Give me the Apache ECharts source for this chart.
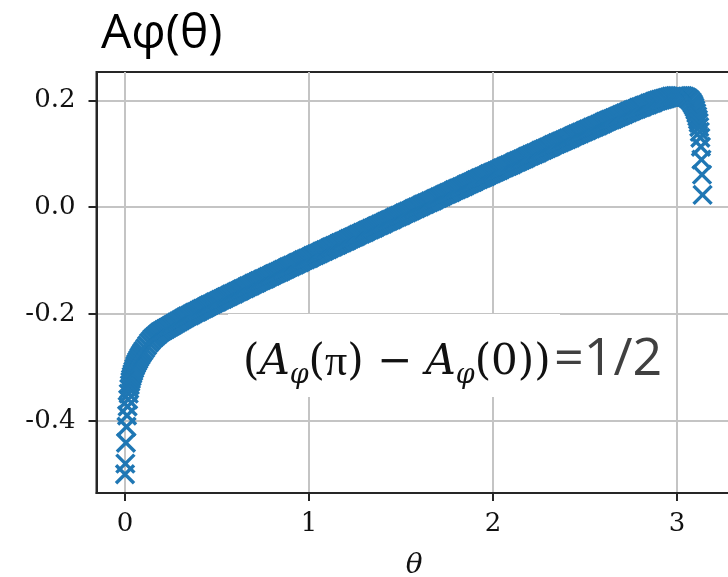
<!DOCTYPE html>
<html>
<head>
<meta charset="utf-8">
<script src="https://cdn.jsdelivr.net/npm/echarts@6/dist/echarts.min.js"></script>
<style>
  html, body { margin: 0; padding: 0; background: #ffffff; }
  #chart { width: 728px; height: 577px; }
</style>
</head>
<body>
<div id="chart"></div>
<script>
// A_phi(theta) sampled on [0, pi]; steep ends near theta = 0 and theta = pi
const thetaLeft = [0.000, 0.002, 0.005, 0.008, 0.011, 0.014, 0.017, 0.020, 0.023, 0.026,
  0.029, 0.032, 0.036, 0.040, 0.045, 0.050, 0.055, 0.060, 0.066, 0.072,
  0.078, 0.085, 0.092, 0.100, 0.110, 0.120, 0.130, 0.140, 0.150, 0.160,
  0.170, 0.180];
const aLeft = [-0.500, -0.480, -0.441, -0.411, -0.390, -0.373, -0.360, -0.349, -0.340, -0.333,
  -0.327, -0.322, -0.317, -0.312, -0.307, -0.302, -0.297, -0.293, -0.289, -0.285,
  -0.281, -0.277, -0.273, -0.269, -0.264, -0.259, -0.254, -0.250, -0.246, -0.243,
  -0.240, -0.237];

const thetaMid = [0.19, 0.20, 0.21, 0.22, 0.23, 0.24, 0.25, 0.26, 0.27, 0.28, 0.29,
  0.30, 0.31, 0.32, 0.33, 0.34, 0.35, 0.36, 0.37, 0.38, 0.39,
  0.40, 0.41, 0.42, 0.43, 0.44, 0.45, 0.46, 0.47, 0.48, 0.49,
  0.50, 0.51, 0.52, 0.53, 0.54, 0.55, 0.56, 0.57, 0.58, 0.59,
  0.60, 0.61, 0.62, 0.63, 0.64, 0.65, 0.66, 0.67, 0.68, 0.69,
  0.70, 0.71, 0.72, 0.73, 0.74, 0.75, 0.76, 0.77, 0.78, 0.79,
  0.80, 0.81, 0.82, 0.83, 0.84, 0.85, 0.86, 0.87, 0.88, 0.89,
  0.90, 0.91, 0.92, 0.93, 0.94, 0.95, 0.96, 0.97, 0.98, 0.99,
  1.00, 1.01, 1.02, 1.03, 1.04, 1.05, 1.06, 1.07, 1.08, 1.09,
  1.10, 1.11, 1.12, 1.13, 1.14, 1.15, 1.16, 1.17, 1.18, 1.19,
  1.20, 1.21, 1.22, 1.23, 1.24, 1.25, 1.26, 1.27, 1.28, 1.29,
  1.30, 1.31, 1.32, 1.33, 1.34, 1.35, 1.36, 1.37, 1.38, 1.39,
  1.40, 1.41, 1.42, 1.43, 1.44, 1.45, 1.46, 1.47, 1.48, 1.49,
  1.50, 1.51, 1.52, 1.53, 1.54, 1.55, 1.56, 1.57, 1.58, 1.59,
  1.60, 1.61, 1.62, 1.63, 1.64, 1.65, 1.66, 1.67, 1.68, 1.69,
  1.70, 1.71, 1.72, 1.73, 1.74, 1.75, 1.76, 1.77, 1.78, 1.79,
  1.80, 1.81, 1.82, 1.83, 1.84, 1.85, 1.86, 1.87, 1.88, 1.89,
  1.90, 1.91, 1.92, 1.93, 1.94, 1.95, 1.96, 1.97, 1.98, 1.99,
  2.00, 2.01, 2.02, 2.03, 2.04, 2.05, 2.06, 2.07, 2.08, 2.09,
  2.10, 2.11, 2.12, 2.13, 2.14, 2.15, 2.16, 2.17, 2.18, 2.19,
  2.20, 2.21, 2.22, 2.23, 2.24, 2.25, 2.26, 2.27, 2.28, 2.29,
  2.30, 2.31, 2.32, 2.33, 2.34, 2.35, 2.36, 2.37, 2.38, 2.39,
  2.40, 2.41, 2.42, 2.43, 2.44, 2.45, 2.46, 2.47, 2.48, 2.49,
  2.50, 2.51, 2.52, 2.53, 2.54, 2.55, 2.56, 2.57, 2.58, 2.59,
  2.60, 2.61, 2.62, 2.63, 2.64, 2.65, 2.66, 2.67, 2.68, 2.69,
  2.70, 2.71, 2.72, 2.73, 2.74, 2.75, 2.76, 2.77, 2.78, 2.79,
  2.80, 2.81, 2.82, 2.83, 2.84, 2.85, 2.86, 2.87, 2.88, 2.89,
  2.90, 2.91, 2.92, 2.93, 2.94, 2.95, 2.96, 2.97, 2.98, 2.99,
  3.00, 3.01, 3.02, 3.03, 3.04, 3.05, 3.06, 3.07, 3.08];
const aMid = [-0.234, -0.232, -0.230, -0.228, -0.226, -0.224, -0.222, -0.220, -0.218, -0.216, -0.214,
  -0.212, -0.210, -0.208, -0.206, -0.204, -0.203, -0.201, -0.199, -0.197, -0.196,
  -0.194, -0.192, -0.190, -0.189, -0.187, -0.185, -0.183, -0.182, -0.180, -0.178,
  -0.177, -0.175, -0.173, -0.172, -0.170, -0.168, -0.167, -0.165, -0.163, -0.162,
  -0.160, -0.158, -0.157, -0.155, -0.153, -0.152, -0.150, -0.148, -0.147, -0.145,
  -0.143, -0.142, -0.140, -0.138, -0.137, -0.135, -0.134, -0.132, -0.130, -0.129,
  -0.127, -0.125, -0.124, -0.122, -0.121, -0.119, -0.117, -0.116, -0.114, -0.112,
  -0.111, -0.109, -0.108, -0.106, -0.104, -0.103, -0.101, -0.099, -0.098, -0.096,
  -0.095, -0.093, -0.091, -0.090, -0.088, -0.087, -0.085, -0.083, -0.082, -0.080,
  -0.079, -0.077, -0.075, -0.074, -0.072, -0.071, -0.069, -0.067, -0.066, -0.064,
  -0.063, -0.061, -0.059, -0.058, -0.056, -0.055, -0.053, -0.051, -0.050, -0.048,
  -0.047, -0.045, -0.043, -0.042, -0.040, -0.039, -0.037, -0.035, -0.034, -0.032,
  -0.031, -0.029, -0.027, -0.026, -0.024, -0.023, -0.021, -0.019, -0.018, -0.016,
  -0.015, -0.013, -0.011, -0.010, -0.008, -0.007, -0.005, -0.003, -0.002, 0.000,
  0.001, 0.003, 0.005, 0.006, 0.008, 0.009, 0.011, 0.012, 0.014, 0.016,
  0.017, 0.019, 0.020, 0.022, 0.024, 0.025, 0.027, 0.028, 0.030, 0.032,
  0.033, 0.035, 0.036, 0.038, 0.039, 0.041, 0.043, 0.044, 0.046, 0.047,
  0.049, 0.051, 0.052, 0.054, 0.055, 0.057, 0.058, 0.060, 0.062, 0.063,
  0.065, 0.066, 0.068, 0.069, 0.071, 0.073, 0.074, 0.076, 0.077, 0.079,
  0.080, 0.082, 0.084, 0.085, 0.087, 0.088, 0.090, 0.091, 0.093, 0.095,
  0.096, 0.098, 0.099, 0.101, 0.102, 0.104, 0.106, 0.107, 0.109, 0.110,
  0.112, 0.113, 0.115, 0.117, 0.118, 0.120, 0.121, 0.123, 0.124, 0.126,
  0.127, 0.129, 0.130, 0.132, 0.134, 0.135, 0.137, 0.138, 0.140, 0.141,
  0.143, 0.144, 0.146, 0.147, 0.149, 0.150, 0.152, 0.153, 0.155, 0.156,
  0.158, 0.160, 0.161, 0.163, 0.164, 0.165, 0.167, 0.168, 0.170, 0.171,
  0.173, 0.174, 0.176, 0.177, 0.179, 0.180, 0.182, 0.183, 0.184, 0.186,
  0.187, 0.188, 0.190, 0.191, 0.192, 0.194, 0.195, 0.196, 0.198, 0.199,
  0.200, 0.201, 0.202, 0.203, 0.204, 0.205, 0.206, 0.207, 0.207, 0.208,
  0.208, 0.208, 0.208, 0.208, 0.207, 0.206, 0.204, 0.201, 0.197];

const thetaRight = [3.085, 3.090, 3.095, 3.100, 3.105, 3.110, 3.114, 3.118, 3.121, 3.124,
  3.127, 3.130, 3.133, 3.136, 3.139];
const aRight = [0.194, 0.191, 0.187, 0.182, 0.176, 0.170, 0.164, 0.158, 0.150, 0.141,
  0.130, 0.113, 0.089, 0.061, 0.023];

const xTicks = [0, 1, 2, 3];
const yTicks = [-0.4, -0.2, 0.0, 0.2];

const points = [];
[[thetaLeft, aLeft], [thetaMid, aMid], [thetaRight, aRight]].forEach(([ts, as]) => {
  ts.forEach((t, i) => points.push([t, as[i]]));
});

const blue = '#1f77b4';
const frame = '#262626';
const gridGray = '#c4c4c4';
const tickFont = 'DejaVu Serif';

const chart = echarts.init(document.getElementById('chart'), null, { renderer: 'canvas' });
chart.setOption({
  animation: false,
  backgroundColor: '#ffffff',
  grid: {
    left: 96.5, top: 72, right: -4, bottom: 84,
    show: true, borderColor: frame, borderWidth: 2,
    containLabel: false, outerBoundsMode: 'none'
  },
  xAxis: {
    type: 'value', min: -0.155, max: 3.299,
    name: 'θ', nameLocation: 'middle', nameGap: 59,
    nameTextStyle: { fontFamily: tickFont, fontStyle: 'italic', fontSize: 28, color: '#111' },
    axisLine: { show: true, onZero: false, lineStyle: { color: frame, width: 2 } },
    axisTick: { show: true, length: 8, customValues: xTicks, lineStyle: { color: frame, width: 2 } },
    axisLabel: { customValues: xTicks, margin: 18, fontFamily: tickFont, fontSize: 26, color: '#111',
      formatter: v => String(v) },
    splitLine: { show: true, lineStyle: { color: gridGray, width: 2 } }
  },
  yAxis: {
    type: 'value', min: -0.535, max: 0.253,
    axisLine: { show: true, onZero: false, lineStyle: { color: frame, width: 2 } },
    axisTick: { show: true, length: 8, customValues: yTicks, lineStyle: { color: frame, width: 2 } },
    axisLabel: { customValues: yTicks, margin: 21, fontFamily: tickFont, fontSize: 26, color: '#111',
      formatter: v => v.toFixed(1) },
    splitLine: { show: true, lineStyle: { color: gridGray, width: 2 } }
  },
  series: [{
    type: 'scatter',
    data: points,
    symbol: 'path://M0 0L10 10M10 0L0 10',
    symbolSize: 18,
    itemStyle: { color: blue, borderColor: blue, borderWidth: 3.4, opacity: 1 },
    emphasis: { disabled: true },
    z: 3
  }],
  graphic: [
    {
      type: 'text', left: 101, top: 10, z: 100,
      style: { text: 'Aφ(θ)', fontFamily: 'Open Sans', fontSize: 48, fill: '#000' }
    },
    {
      type: 'rect', z: 90,
      shape: { x: 228, y: 314, width: 332, height: 83 },
      style: { fill: '#ffffff' }
    },
    {
      type: 'text', left: 243, top: 341, z: 100,
      style: {
        text: '{p|(}{i|A}{s|φ}{p|(}{q|π}{p|) − }{i|A}{s|φ}{p|(0))}',
        rich: {
          p: { fontFamily: tickFont, fontSize: 42, fill: '#111', lineHeight: 52, verticalAlign: 'middle' },
          q: { fontFamily: 'Liberation Serif', fontSize: 44, fill: '#111', lineHeight: 52, verticalAlign: 'middle' },
          i: { fontFamily: tickFont, fontStyle: 'italic', fontSize: 42, fill: '#111', lineHeight: 52, verticalAlign: 'middle' },
          s: { fontFamily: tickFont, fontStyle: 'italic', fontSize: 27, fill: '#111', verticalAlign: 'bottom' }
        }
      }
    },
    {
      type: 'text', left: 554, top: 334, z: 100,
      style: { text: '=1/2', fontFamily: 'Open Sans', fontSize: 52, fill: '#404040' }
    }
  ]
});
</script>
</body>
</html>
